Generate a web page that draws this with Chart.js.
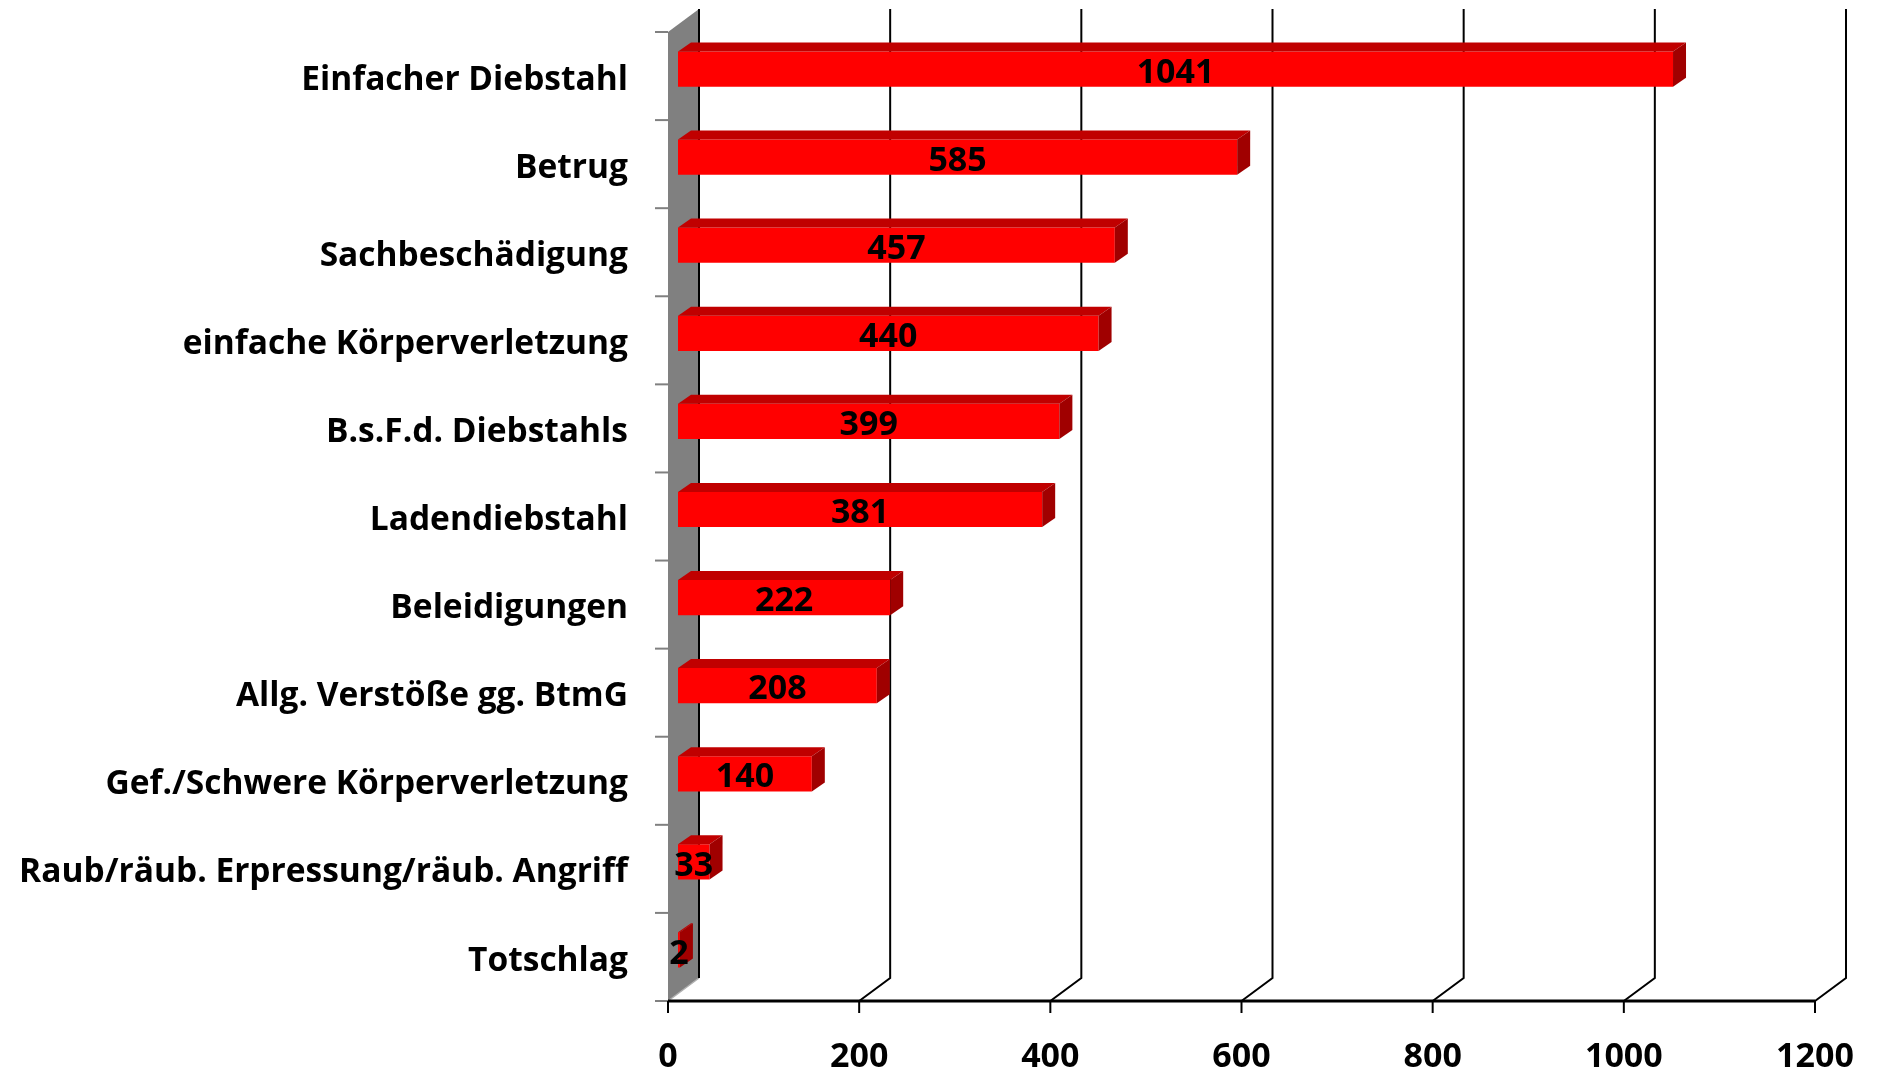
<!DOCTYPE html>
<html>
<head>
<meta charset="utf-8">
<script src="https://cdn.jsdelivr.net/npm/chart.js@4/dist/chart.umd.min.js"></script>
<style>
  html, body { margin: 0; padding: 0; background: #fff; }
  canvas { display: block; }
</style>
</head>
<body>
<canvas id="chart" width="1877" height="1069"></canvas>
<script>
// categories, top to bottom
const categories = [
  "Einfacher Diebstahl",
  "Betrug",
  "Sachbeschädigung",
  "einfache Körperverletzung",
  "B.s.F.d. Diebstahls",
  "Ladendiebstahl",
  "Beleidigungen",
  "Allg. Verstöße gg. BtmG",
  "Gef./Schwere Körperverletzung",
  "Raub/räub. Erpressung/räub. Angriff",
  "Totschlag",
];
const values = [1041, 585, 457, 440, 399, 381, 222, 208, 140, 33, 2];
const xTicks = [0, 200, 400, 600, 800, 1000, 1200];

const FONT = "'Open Sans', sans-serif";
// depth of the 3d box and of the bars
const DEPTH_X = 31, DEPTH_Y = -23;
const BAR_SHIFT_X = 10, BAR_SHIFT_Y = -7;
const BAR_DX = 13, BAR_DY = -9;

//draws wall, floor, gridlines and ticks behind the bars
const box3d = {
  id: "box3d",
  beforeDatasetsDraw(chart) {
    const ctx = chart.ctx;
    const x = chart.scales.x;
    const area = chart.chartArea;
    const x0 = x.getPixelForValue(0);
    ctx.save();
    // side wall
    ctx.fillStyle = "#808080";
    ctx.beginPath();
    ctx.moveTo(x0, area.top);
    ctx.lineTo(x0 + DEPTH_X, area.top + DEPTH_Y);
    ctx.lineTo(x0 + DEPTH_X, area.bottom + DEPTH_Y);
    ctx.lineTo(x0, area.bottom);
    ctx.closePath();
    ctx.fill();
    ctx.strokeStyle = "#b0b0b0";
    ctx.lineWidth = 1.5;
    ctx.beginPath();
    ctx.moveTo(x0, area.bottom);
    ctx.lineTo(x0 + DEPTH_X, area.bottom + DEPTH_Y);
    ctx.stroke();
    // gridlines on the back wall + floor diagonals
    ctx.strokeStyle = "#000";
    ctx.lineWidth = 2;
    xTicks.forEach((v) => {
      const px = x.getPixelForValue(v);
      ctx.beginPath();
      if (v !== 0) ctx.moveTo(px, area.bottom);
      else ctx.moveTo(px + DEPTH_X, area.bottom + DEPTH_Y);
      ctx.lineTo(px + DEPTH_X, area.bottom + DEPTH_Y);
      ctx.lineTo(px + DEPTH_X, area.top + DEPTH_Y);
      ctx.stroke();
    });
    // category ticks
    const band = (area.bottom - area.top) / categories.length;
    ctx.strokeStyle = "#808080";
    ctx.lineWidth = 2;
    for (let i = 0; i <= categories.length; i++) {
      const py = area.top + i * band;
      ctx.beginPath();
      ctx.moveTo(x0 - 13, py);
      ctx.lineTo(x0, py);
      ctx.stroke();
    }
    // x axis line and ticks
    ctx.strokeStyle = "#000";
    ctx.lineWidth = 3;
    ctx.beginPath();
    ctx.moveTo(x0, area.bottom);
    ctx.lineTo(x.getPixelForValue(1200), area.bottom);
    ctx.stroke();
    ctx.lineWidth = 2;
    xTicks.forEach((v) => {
      const px = x.getPixelForValue(v);
      ctx.beginPath();
      ctx.moveTo(px, area.bottom);
      ctx.lineTo(px, area.bottom + 12);
      ctx.stroke();
    });
    ctx.restore();
  },
  beforeDatasetDraw(chart) {
    chart.ctx.save();
    chart.ctx.translate(BAR_SHIFT_X, BAR_SHIFT_Y);
  },
  afterDatasetDraw(chart) {
    chart.ctx.restore();
  },
  afterDatasetsDraw(chart) {
    const ctx = chart.ctx;
    const meta = chart.getDatasetMeta(0);
    ctx.save();
    meta.data.forEach((bar, i) => {
      const left = bar.base + BAR_SHIFT_X;
      const right = bar.x + BAR_SHIFT_X;
      const top = bar.y - bar.height / 2 + BAR_SHIFT_Y;
      const bottom = bar.y + bar.height / 2 + BAR_SHIFT_Y;
      // top face
      ctx.fillStyle = "#c00000";
      ctx.beginPath();
      ctx.moveTo(left, top);
      ctx.lineTo(left + BAR_DX, top + BAR_DY);
      ctx.lineTo(right + BAR_DX, top + BAR_DY);
      ctx.lineTo(right, top);
      ctx.closePath();
      ctx.fill();
      // side face
      ctx.fillStyle = "#a00000";
      ctx.beginPath();
      ctx.moveTo(right, top);
      ctx.lineTo(right + BAR_DX, top + BAR_DY);
      ctx.lineTo(right + BAR_DX, bottom + BAR_DY);
      ctx.lineTo(right, bottom);
      ctx.closePath();
      ctx.fill();
    });
    // value labels
    ctx.fillStyle = "#000";
    ctx.font = "bold 34px " + FONT;
    ctx.textAlign = "center";
    ctx.textBaseline = "middle";
    meta.data.forEach((bar, i) => {
      const cx = (bar.base + bar.x) / 2 + BAR_SHIFT_X;
      const cy = bar.y + BAR_SHIFT_Y;
      ctx.fillText(String(values[i]), cx, cy + 4);
    });
    ctx.restore();
  },
};

new Chart(document.getElementById("chart"), {
  type: "bar",
  data: {
    labels: categories,
    datasets: [
      {
        data: values,
        backgroundColor: "#ff0000",
        borderWidth: 0,
        categoryPercentage: 1,
        barPercentage: 0.4,
      },
    ],
  },
  options: {
    indexAxis: "y",
    responsive: false,
    animation: false,
    devicePixelRatio: 1,
    layout: { padding: { top: 32, right: 62, left: 0, bottom: 0 } },
    plugins: { legend: { display: false }, tooltip: { enabled: false } },
    scales: {
      x: {
        min: 0,
        max: 1200,
        afterBuildTicks: (axis) => {
          axis.ticks = xTicks.map((v) => ({ value: v }));
        },
        grid: { display: false, drawTicks: false },
        border: { display: false },
        ticks: {
          color: "#000",
          font: { family: FONT, size: 34, weight: "bold" },
          padding: 36,
          maxRotation: 0,
          callback: (v) => String(v),
        },
        afterFit: (axis) => {
          axis.height = 68;
          axis.paddingLeft = 0;
          axis.paddingRight = 0;
        },
      },
      y: {
        grid: { display: false, drawTicks: false },
        border: { display: false },
        ticks: {
          color: "#000",
          font: { family: FONT, size: 33.5, weight: "bold" },
          padding: 40,
          labelOffset: 4,
        },
        afterFit: (axis) => {
          axis.width = 668;
          axis.paddingTop = 0;
          axis.paddingBottom = 0;
        },
      },
    },
  },
  plugins: [box3d],
});
</script>
</body>
</html>
